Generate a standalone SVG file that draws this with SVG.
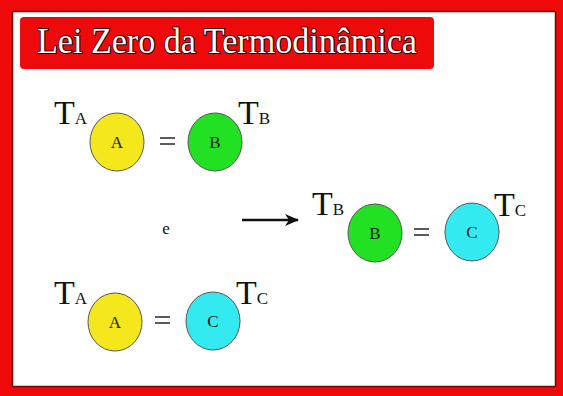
<svg xmlns="http://www.w3.org/2000/svg" width="563" height="396" viewBox="0 0 563 396">
<style>
.t{font-family:"Liberation Serif","Times New Roman",serif;fill:#111}
.big{font-size:34px}
.sub{font-size:17px}
.lbl{font-size:17px;text-anchor:middle;fill:#222}
.eq{stroke:#333;stroke-width:1.6}
.circ{stroke:#555;stroke-width:1}
</style>
<defs>
<marker id="ah" viewBox="0 0 14 12" refX="13" refY="6" markerWidth="14" markerHeight="12" markerUnits="userSpaceOnUse" orient="auto">
<path d="M0,0 L14,6 L0,12 L4,6 Z" fill="#111"/>
</marker>
</defs>
<rect x="0" y="0" width="563" height="396" fill="#ee0a0a"/>
<rect x="12.5" y="11.5" width="543" height="375" fill="#fff" stroke="#7a0000" stroke-width="1.5"/>
<g id="title">
<rect x="20" y="17" width="414" height="52" rx="4" fill="#ee0a0a"/>
<text x="37" y="53" font-family="Liberation Serif,serif" font-size="36" fill="#fff" stroke="#2a0000" stroke-width="2" paint-order="stroke" textLength="380" lengthAdjust="spacingAndGlyphs">Lei Zero da Termodinâmica</text>
</g>
<g id="row1">
<g id="TA1"><text class="t" x="54" y="124"><tspan class="big">T</tspan><tspan class="sub">A</tspan></text></g>
<g id="A1"><ellipse class="circ" cx="117" cy="142" rx="27" ry="29" fill="#f4e81c"/><text class="t lbl" x="117" y="148">A</text></g>
<g id="eq1"><line class="eq" x1="160" y1="138" x2="175" y2="138"/><line class="eq" x1="160" y1="144" x2="175" y2="144"/></g>
<g id="B1"><ellipse class="circ" cx="215" cy="142" rx="27" ry="29" fill="#22e022"/><text class="t lbl" x="215" y="148">B</text></g>
<g id="TB1"><text class="t" x="238" y="124"><tspan class="big">T</tspan><tspan class="sub">B</tspan></text></g>
</g>
<g id="e"><text class="t" x="166" y="234" font-size="17" text-anchor="middle">e</text></g>
<g id="connectors">
<line x1="242" y1="220" x2="298" y2="220" stroke="#111" stroke-width="2.6" marker-end="url(#ah)"/>
</g>
<g id="row2">
<g id="TB2"><text class="t" x="312" y="215"><tspan class="big">T</tspan><tspan class="sub">B</tspan></text></g>
<g id="B2"><ellipse class="circ" cx="375" cy="233" rx="27" ry="29" fill="#22e022"/><text class="t lbl" x="375" y="239">B</text></g>
<g id="eq2"><line class="eq" x1="414" y1="229" x2="429" y2="229"/><line class="eq" x1="414" y1="235" x2="429" y2="235"/></g>
<g id="C2"><ellipse class="circ" cx="472" cy="232" rx="27" ry="29" fill="#33eaf0"/><text class="t lbl" x="472" y="238">C</text></g>
<g id="TC2"><text class="t" x="494" y="216"><tspan class="big">T</tspan><tspan class="sub">C</tspan></text></g>
</g>
<g id="row3">
<g id="TA3"><text class="t" x="54" y="304"><tspan class="big">T</tspan><tspan class="sub">A</tspan></text></g>
<g id="A3"><ellipse class="circ" cx="115" cy="322" rx="27" ry="29" fill="#f4e81c"/><text class="t lbl" x="115" y="328">A</text></g>
<g id="eq3"><line class="eq" x1="155" y1="317" x2="170" y2="317"/><line class="eq" x1="155" y1="323" x2="170" y2="323"/></g>
<g id="C3"><ellipse class="circ" cx="213" cy="321" rx="27" ry="29" fill="#33eaf0"/><text class="t lbl" x="213" y="327">C</text></g>
<g id="TC3"><text class="t" x="236" y="304"><tspan class="big">T</tspan><tspan class="sub">C</tspan></text></g>
</g>
</svg>
